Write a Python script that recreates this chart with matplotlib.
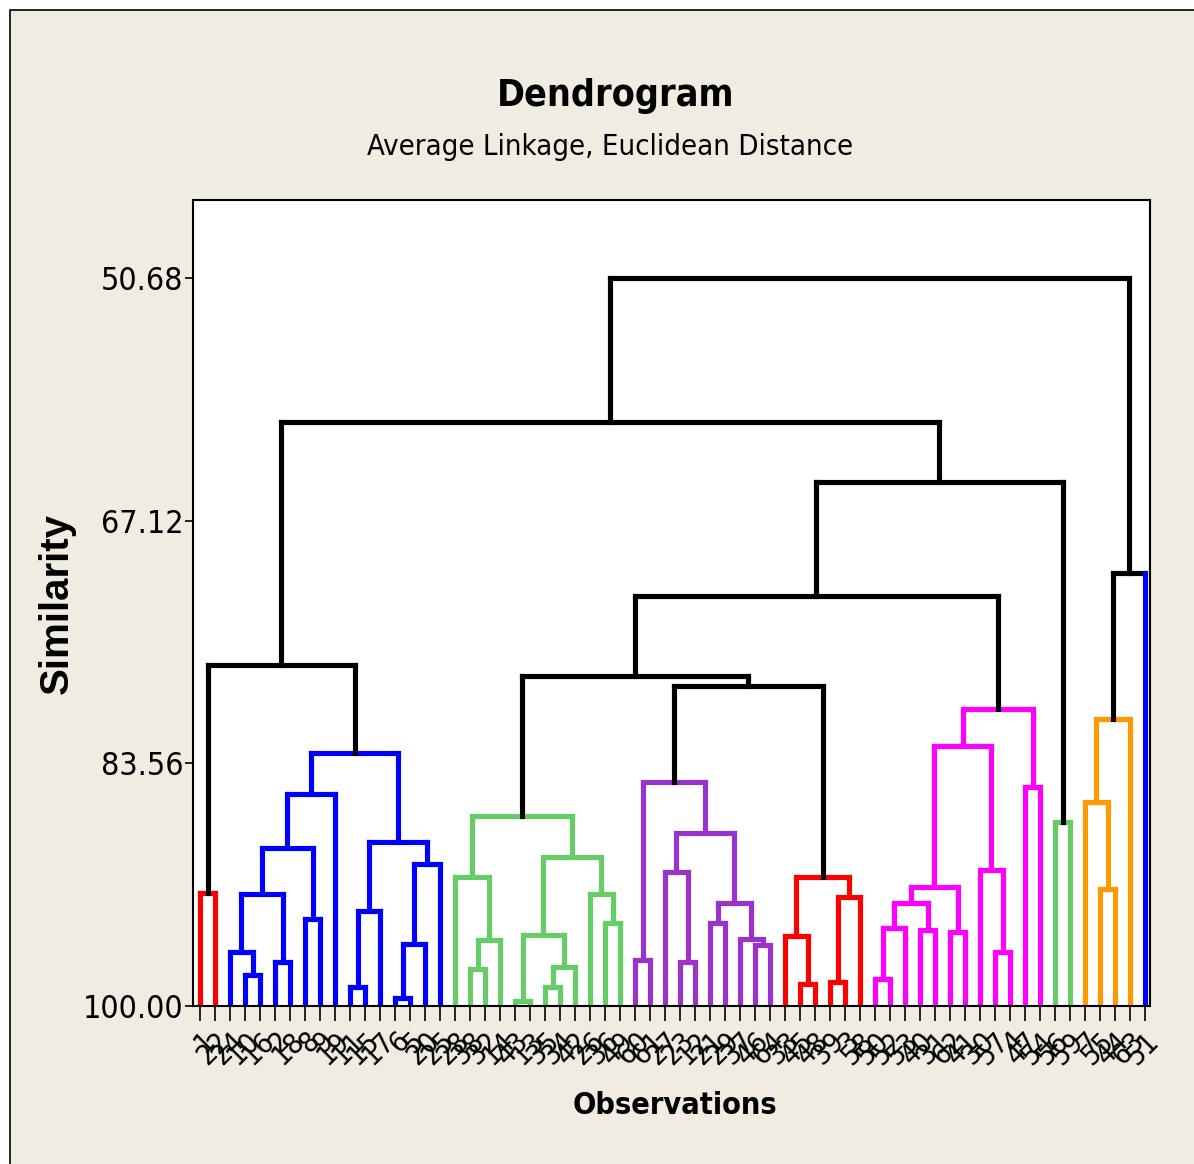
import numpy as np
import matplotlib
matplotlib.use("Agg")
import matplotlib.pyplot as plt
from matplotlib.patches import Rectangle
from matplotlib import font_manager as fm

# ---- data -----------------------------------------------------------
# observation labels in leaf order (left -> right); unreadable in source, estimated
leaf_labels = [1, 22, 24, 10, 16, 2, 18, 8,
               9, 19, 11, 15, 17, 6, 5, 20,
               25, 28, 38, 32, 14, 43, 13, 35,
               34, 42, 26, 36, 49, 60, 61, 27,
               23, 12, 21, 29, 37, 46, 64, 33,
               45, 48, 39, 3, 58, 50, 52, 53,
               40, 31, 62, 41, 30, 57, 4, 47,
               54, 56, 59, 7, 55, 44, 63, 51]
n_leaves = len(leaf_labels)

# merges: (child a, child b, similarity, colour key)
# child < n_leaves -> leaf index, otherwise node n_leaves + merge index
merge_a = [0, 3, 2, 5, 66, 7, 68, 70, 10, 72, 13, 74, 75, 73, 71, 64,
           18, 80, 17, 21, 23, 84, 83, 27, 26, 86, 82,
           29, 32, 31, 34, 37, 36, 94, 93, 91,
           40, 39, 42, 102, 101,
           45, 105, 48, 106, 50, 108, 53, 52, 110, 55, 113,
           57, 60, 59, 118, 119,
           99, 90, 122, 123, 79, 125]
merge_b = [1, 4, 65, 6, 67, 8, 69, 9, 11, 12, 14, 15, 16, 76, 77, 78,
           19, 20, 81, 22, 24, 25, 85, 28, 87, 88, 89,
           30, 33, 92, 35, 38, 95, 96, 97, 98,
           41, 100, 43, 44, 103,
           46, 47, 49, 107, 51, 109, 54, 111, 112, 56, 114,
           58, 61, 117, 62, 63,
           104, 121, 115, 116, 124, 120]
merge_sim = [92.34, 97.90, 96.34, 97.02, 92.41, 94.11, 89.30, 85.64,
             98.71, 93.56, 99.46, 95.80, 90.38, 88.89, 82.86, 76.90,
             97.49, 95.53, 91.26, 99.66, 98.71, 97.36, 95.19, 94.38,
             92.41, 89.91, 87.13,
             96.88, 97.02, 90.92, 94.38, 95.87, 95.46, 93.02, 88.28, 84.82,
             98.51, 95.26, 98.37, 92.62, 91.26,
             98.17, 94.72, 94.85, 93.02, 94.99, 91.94, 96.34, 90.79,
             82.38, 85.16, 79.88,
             87.53, 92.07, 86.18, 80.56, 70.66,
             78.32, 77.64, 72.22, 64.50, 60.43, 50.68]
merge_col = (["red"] + ["blue"] * 14 + ["black"]
             + ["green"] * 11 + ["purple"] * 9 + ["red"] * 5
             + ["magenta"] * 11 + ["green"] + ["orange"] * 3 + ["black"]
             + ["black"] * 6)
# single-observation clusters keep their own colour
leaf_colour = {63: "blue"}

y_ticks = [50.68, 67.12, 83.56, 100.00]

palette = {"red": "#FF0000", "blue": "#0000FF", "green": "#66CC66",
           "purple": "#9933CC", "magenta": "#FF00FF", "orange": "#FF9900",
           "black": "#000000"}
BG = "#F0ECE2"

# condensed face if the system has one, otherwise plain sans at smaller sizes
_files = [f.fname.lower() for f in fm.fontManager.ttflist]
if any("dejavusanscondensed" in p for p in _files):
    NARROW = dict(family=["DejaVu Sans"], fontstretch="condensed")
    sz = 1.0
elif any("liberationsansnarrow" in p for p in _files):
    NARROW = dict(family=["Liberation Sans Narrow", "DejaVu Sans"])
    sz = 1.0
else:
    NARROW = dict(family=["Liberation Sans", "DejaVu Sans"])
    sz = 0.84

# ---- node positions ------------------------------------------------
node_x = list(np.arange(n_leaves, dtype=float))
node_y = [100.0] * n_leaves
for a, b, s in zip(merge_a, merge_b, merge_sim):
    node_x.append((node_x[a] + node_x[b]) / 2)
    node_y.append(s)

fig = plt.figure(figsize=(11.94, 11.64), dpi=100)
fig.patch.set_facecolor("white")
fig.patches.append(Rectangle((10 / 1194, -0.1), 1.2, 1.1 - 10 / 1164,
                             transform=fig.transFigure, facecolor=BG,
                             edgecolor="black", lw=1.2, zorder=-10))

ax = fig.add_axes([193 / 1194, 1 - 1006 / 1164, 957 / 1194, 806 / 1164])
ax.set_facecolor("white")

lw = 3.7
for a, b, s, c in zip(merge_a, merge_b, merge_sim, merge_col):
    col = palette[c]
    xa, xb = node_x[a], node_x[b]
    ax.plot([xa, xb], [s, s], color=col, lw=lw, solid_capstyle="projecting")
    for ch in (a, b):
        leg = palette[leaf_colour[ch]] if ch in leaf_colour else col
        ax.plot([node_x[ch], node_x[ch]], [node_y[ch], s], color=leg, lw=lw,
                solid_capstyle="projecting")

ax.set_xlim(-0.47, 63.33)
ax.set_ylim(100.0, 45.39)
ax.set_yticks(y_ticks)
ax.set_yticklabels([f"{v:.2f}" for v in y_ticks], fontsize=23 * sz, **NARROW)
ax.set_xticks(np.arange(n_leaves))
ax.set_xticklabels([str(v) for v in leaf_labels], fontsize=21 * sz,
                   rotation=45, ha="right", va="top", rotation_mode="anchor",
                   **NARROW)
ax.tick_params(axis="x", direction="out", length=11, width=1.2, pad=4)
ax.tick_params(axis="y", direction="out", length=6, width=1.2, pad=1)
for sp in ax.spines.values():
    sp.set_linewidth(1.5)

fig.text(616 / 1194, 1 - 96 / 1164, "Dendrogram", fontweight="bold",
         fontsize=27 * sz, ha="center", va="center", **NARROW)
fig.text(610 / 1194, 1 - 147 / 1164, "Average Linkage, Euclidean Distance",
         fontsize=21 * sz, ha="center", va="center", **NARROW)
fig.text(57 / 1194, 1 - 603 / 1164, "Similarity",
         family=["Liberation Sans", "DejaVu Sans"],
         fontweight="bold", fontsize=29, rotation=90, ha="center", va="center")
fig.text(675 / 1194, 1 - 1105 / 1164, "Observations", fontweight="bold",
         fontsize=22 * sz, ha="center", va="center", **NARROW)

fig.savefig("out.png", dpi=100, facecolor=fig.get_facecolor())
